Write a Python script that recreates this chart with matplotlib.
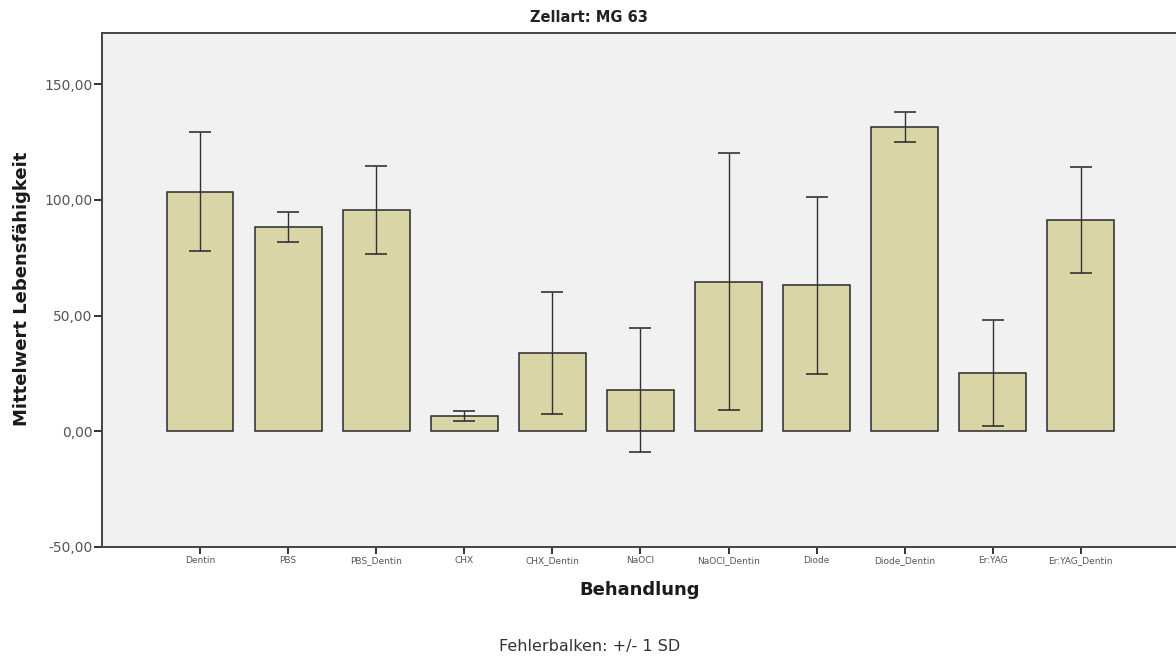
import numpy as np
import matplotlib
matplotlib.use('Agg')
import matplotlib.pyplot as plt

# Mittelwerte und Standardabweichungen je Behandlung
behandlung = ["Dentin", "PBS", "PBS_Dentin", "CHX", "CHX_Dentin", "NaOCl",
              "NaOCl_Dentin", "Diode", "Diode_Dentin", "Er:YAG", "Er:YAG_Dentin"]
mittelwert = [103.6, 88.2, 95.7, 6.6, 33.7, 17.7, 64.6, 63.2, 131.6, 25.1, 91.3]
sd = [25.8, 6.5, 19.0, 2.3, 26.3, 26.9, 55.6, 38.3, 6.5, 23.0, 22.8]

yticks = [-50, 0, 50, 100, 150]

fig = plt.figure(figsize=(11.76, 6.57), dpi=100)
ax = fig.add_axes([0.0865, 0.168, 0.9135, 0.7823])
ax.set_facecolor('#f1f1f1')

x = np.arange(len(behandlung))
ax.bar(x, mittelwert, width=0.76, color='#d9d5a7', edgecolor='#2a2a2a',
       linewidth=1.1, zorder=2)
ax.errorbar(x, mittelwert, yerr=sd, fmt='none', ecolor='#333333',
            elinewidth=1.0, capsize=7.8, capthick=1.2, zorder=3)

ax.set_xlim(-1.116, 11.08)
ax.set_ylim(-50, 172.4)

ax.set_xticks(x)
ax.set_xticklabels(behandlung, fontsize=6.5, color='#555555')
ax.set_yticks(yticks)
ax.set_yticklabels(["%d,00" % v for v in yticks], fontsize=10, color='#555555')
ax.tick_params(axis='x', direction='out', length=5, width=1.4, color='#333333', pad=2)
ax.tick_params(axis='y', direction='out', length=5.5, width=1.4, color='#333333', pad=1)

for side in ['left', 'bottom', 'top']:
    ax.spines[side].set_color('#444444')
    ax.spines[side].set_linewidth(1.4)
ax.spines['right'].set_visible(False)

fig.text(22 / 1176, 1 - 289 / 657, "Mittelwert Lebensfähigkeit", rotation=90,
         ha='center', va='center', fontsize=13, fontweight='bold', color='#1a1a1a')
fig.text(640 / 1176, 1 - 590 / 657, "Behandlung", ha='center', va='center',
         fontsize=13, fontweight='bold', color='#1a1a1a')
fig.text(589 / 1176, 1 - 17 / 657, "Zellart: MG 63", ha='center', va='center',
         fontsize=10.5, fontweight='bold', color='#222222')
fig.text(590 / 1176, 1 - 647 / 657, "Fehlerbalken: +/- 1 SD", ha='center', va='center',
         fontsize=11.5, color='#333333')

plt.savefig('out.png', dpi=100)
